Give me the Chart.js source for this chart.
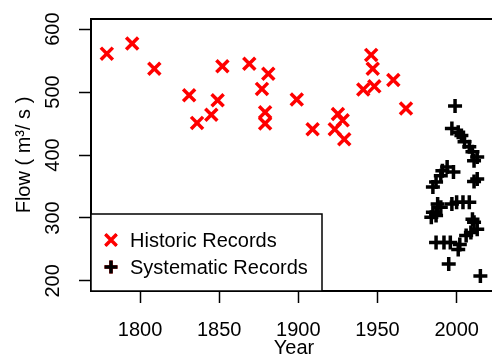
<!DOCTYPE html>
<html>
<head>
<meta charset="utf-8">
<script src="https://cdn.jsdelivr.net/npm/chart.js@4.4.0/dist/chart.umd.min.js"></script>
<style>
  html, body { margin: 0; padding: 0; background: #fff; overflow: hidden; }
  #wrap { width: 509px; height: 364px; }
</style>
</head>
<body>
<div id="wrap"><canvas id="flowChart" width="509" height="364"></canvas></div>
<script>
// historic flood records (year, flow m3/s)
const historicYears = [1779, 1795, 1809, 1831, 1836, 1845, 1849, 1852, 1869, 1881, 1877, 1879, 1879,
  1899, 1909, 1925, 1928, 1923, 1929, 1941, 1948, 1946, 1947, 1960, 1968];
const historicFlow = [561, 577, 537, 495, 451, 464, 487, 541, 545, 529, 505, 468, 450,
  488, 441, 465, 455, 441, 425, 504, 509, 559, 537, 519, 474];

// systematic (gauged) records
const systematicYears = [1985, 1987, 1990, 1991, 1994, 1998, 1997, 1999, 2001, 2003, 2005, 2008, 2010, 2011, 2013, 2013, 2011,
  1988, 1990, 1985, 1987, 1984, 1997, 2000, 2004, 2008, 2011, 2010, 2013, 2009, 2006,
  1987, 1992, 1996, 2002, 2001, 1995, 2015];
const systematicFlow = [349, 357, 367, 375, 381, 373, 442, 478, 436, 431, 421, 413, 405, 391, 397, 362, 358,
  322, 317, 309, 304, 301, 322, 325, 325, 325, 293, 298, 282, 277, 272,
  261, 261, 261, 258, 250, 227, 208];

const xTicks = [1800, 1850, 1900, 1950, 2000];
const yTicks = [200, 300, 400, 500, 600];

const seriesNames = ['Historic Records', 'Systematic Records'];
const seriesColors = ['#ff0000', '#000000'];

const FONT = '"Liberation Sans", Arial, sans-serif';

const toPoints = (xs, ys) => xs.map((x, i) => ({ x: x, y: ys[i] }));

// box around the plot, rotated y labels and the legend, R style
const rStyle = {
  id: 'rStyle',
  afterDraw(chart) {
    const ctx = chart.ctx;
    const a = chart.chartArea;
    ctx.save();
    ctx.strokeStyle = '#000';
    ctx.lineWidth = 2;
    ctx.strokeRect(a.left, a.top, a.right - a.left, a.bottom - a.top);

    // y tick labels, read bottom to top
    const ys = chart.scales.y;
    ctx.fillStyle = '#000';
    ctx.font = '20px ' + FONT;
    ctx.textAlign = 'center';
    ctx.textBaseline = 'alphabetic';
    yTicks.forEach(v => {
      ctx.save();
      ctx.translate(59, ys.getPixelForValue(v));
      ctx.rotate(-Math.PI / 2);
      ctx.fillText(String(v), 0, 0);
      ctx.restore();
    });

    // legend
    const lx = a.left, ly = 214;
    ctx.fillStyle = '#fff';
    ctx.fillRect(lx, ly, 231, a.bottom - ly);
    ctx.lineWidth = 1.5;
    ctx.strokeRect(lx, ly, 231, a.bottom - ly);
    const rows = [240, 267];
    rows.forEach((ry, i) => {
      const ds = chart.data.datasets[i];
      Chart.helpers.drawPoint(ctx, {
        pointStyle: ds.pointStyle, radius: i === 0 ? 8 : 6.5, rotation: 0, borderWidth: 3.5
      }, lx + 20, ry);
      ctx.strokeStyle = seriesColors[i];
      ctx.lineWidth = 3.5;
      ctx.stroke();
      ctx.fillStyle = '#000';
      ctx.font = '20px ' + FONT;
      ctx.textAlign = 'left';
      ctx.textBaseline = 'middle';
      ctx.fillText(seriesNames[i], lx + 39, ry + 1);
    });
    ctx.restore();
  }
};

new Chart(document.getElementById('flowChart'), {
  type: 'scatter',
  data: {
    datasets: [
      {
        label: seriesNames[0],
        data: toPoints(historicYears, historicFlow),
        pointStyle: 'crossRot',
        pointRadius: 8.5,
        pointHoverRadius: 8.5,
        borderColor: seriesColors[0],
        backgroundColor: seriesColors[0],
        pointBorderWidth: 3.5
      },
      {
        label: seriesNames[1],
        data: toPoints(systematicYears, systematicFlow),
        pointStyle: 'cross',
        pointRadius: 7,
        pointHoverRadius: 7,
        borderColor: seriesColors[1],
        backgroundColor: seriesColors[1],
        pointBorderWidth: 3.5
      }
    ]
  },
  options: {
    responsive: false,
    animation: false,
    devicePixelRatio: 1,
    layout: { padding: { top: 19, right: 0, left: 0, bottom: 0 } },
    plugins: { legend: { display: false }, tooltip: { enabled: false } },
    scales: {
      x: {
        type: 'linear',
        min: 1769,
        max: 2025.5,
        afterBuildTicks: s => { s.ticks = xTicks.map(v => ({ value: v })); },
        afterFit: s => { s.height = 73; },
        grid: { drawOnChartArea: false, tickLength: 12, tickWidth: 1.5, tickColor: '#000' },
        border: { display: false },
        ticks: { color: '#000', font: { family: FONT, size: 20 }, padding: 15, maxRotation: 0, callback: v => String(v) },
        title: { display: true, text: 'Year', color: '#000', font: { family: FONT, size: 20 }, padding: { top: 0, bottom: 4 } }
      },
      y: {
        type: 'linear',
        min: 184,
        max: 616,
        afterBuildTicks: s => { s.ticks = yTicks.map(v => ({ value: v })); },
        afterFit: s => { s.width = 91; },
        grid: { drawOnChartArea: false, tickLength: 12, tickWidth: 1.5, tickColor: '#000' },
        border: { display: false },
        ticks: { display: false },
        title: { display: true, text: 'Flow ( m³/ s )', color: '#000', font: { family: FONT, size: 20 }, padding: { top: 12, bottom: 0 } }
      }
    }
  },
  plugins: [rStyle]
});
</script>
</body>
</html>
